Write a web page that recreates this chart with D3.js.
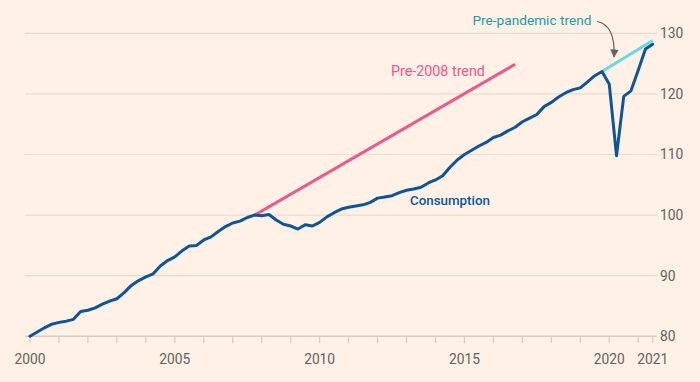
<!DOCTYPE html>
<html>
<head>
<meta charset="utf-8">
<script src="https://cdn.jsdelivr.net/npm/d3@7"></script>
<style>
  html, body { margin: 0; padding: 0; background: #FFF1E5; }
  svg { display: block; font-family: Roboto, "Noto Sans", sans-serif; }
</style>
</head>
<body>
<svg id="chart" width="700" height="382"></svg>
<script>
// Quarterly real consumption index, 2000 Q1 .. 2021 Q3
const startYear = 2000;
const consumption = [
  80.0, 80.7, 81.4, 82.0, 82.3, 82.5, 82.8, 84.1, 84.3, 84.7,
  85.3, 85.8, 86.2, 87.2, 88.4, 89.2, 89.8, 90.3, 91.6, 92.5,
  93.1, 94.1, 94.9, 95.0, 95.9, 96.4, 97.3, 98.1, 98.7, 99.0,
  99.6, 100.0, 99.9, 100.1, 99.2, 98.5, 98.2, 97.7, 98.4, 98.2,
  98.8, 99.7, 100.4, 101.0, 101.3, 101.5, 101.7, 102.1, 102.8, 103.0,
  103.2, 103.7, 104.1, 104.3, 104.6, 105.3, 105.8, 106.5, 107.9, 109.1,
  110.0, 110.7, 111.4, 112.0, 112.8, 113.2, 113.9, 114.5, 115.4, 116.0,
  116.6, 117.9, 118.6, 119.5, 120.2, 120.7, 121.0, 122.0, 123.0, 123.7,
  121.6, 109.8, 119.6, 120.5, 123.9, 127.4, 128.2
];
// trend lines: [fractional year, value]
const pre2008Trend = [[2007.75, 100.0], [2016.75, 124.9]];
const prePandemicTrend = [[2019.75, 123.7], [2021.5, 128.8]];
const yTicks = [80, 90, 100, 110, 120, 130];
const xTickYears = d3.range(2000, 2022);
const xLabelYears = [2000, 2005, 2010, 2015, 2020];
const xEndLabel = { at: 2021.5, text: "2021" };

const svg = d3.select("#chart");
const x = d3.scaleLinear().domain([2000, 2021.5]).range([30, 652.7]);
const y = d3.scaleLinear().domain([80, 130]).range([336.3, 33.3]);
const gridL = 25, gridR = 657;

// scale a text's font size so that its rendered width matches a target width
function fitSize(text, target, weight) {
  const t = svg.append("text").attr("font-size", 20).attr("font-weight", weight || 400).text(text);
  const w = t.node().getComputedTextLength();
  t.remove();
  return 20 * target / w;
}
const axisFs = fitSize("2000", 31);
const yFs = fitSize("130", 23.3);

// gridlines
svg.append("g").selectAll("line").data(yTicks.filter(d => d !== 80)).join("line")
  .attr("x1", gridL).attr("x2", gridR)
  .attr("y1", d => y(d)).attr("y2", d => y(d))
  .attr("stroke", "#E8DCD1").attr("stroke-width", 1.2);

// baseline
svg.append("line").attr("x1", gridL).attr("x2", gridR)
  .attr("y1", y(80)).attr("y2", y(80))
  .attr("stroke", "#D6CCC3").attr("stroke-width", 1.6);

// y labels
svg.append("g").selectAll("text").data(yTicks).join("text")
  .attr("x", 660).attr("y", d => y(d)).attr("dy", "0.36em")
  .attr("fill", "#66605C").attr("font-size", yFs).text(d => d);

// x ticks
const tickVals = xTickYears.concat([xEndLabel.at]);
svg.append("g").selectAll("line").data(tickVals).join("line")
  .attr("x1", d => x(d)).attr("x2", d => x(d))
  .attr("y1", y(80)).attr("y2", y(80) + 7)
  .attr("stroke", "#D6CCC3").attr("stroke-width", 1.2);

svg.append("g").selectAll("text").data(xLabelYears).join("text")
  .attr("x", d => x(d)).attr("y", 364).attr("text-anchor", "middle")
  .attr("fill", "#66605C").attr("font-size", axisFs).text(d => d);
svg.append("text").attr("x", x(xEndLabel.at)).attr("y", 364).attr("text-anchor", "middle")
  .attr("fill", "#66605C").attr("font-size", axisFs).text(xEndLabel.text);

const line = d3.line().x(d => x(d[0])).y(d => y(d[1]));
const consData = consumption.map((v, i) => [startYear + i * 0.25, v]);

svg.append("path").datum(pre2008Trend).attr("d", line)
  .attr("fill", "none").attr("stroke", "#F0588C").attr("stroke-width", 3);
svg.append("path").datum(prePandemicTrend).attr("d", line)
  .attr("fill", "none").attr("stroke", "#6ED8E2").attr("stroke-width", 3);
svg.append("path").datum(consData).attr("d", line)
  .attr("fill", "none").attr("stroke", "#0F5499").attr("stroke-width", 3)
  .attr("stroke-linejoin", "round").attr("stroke-linecap", "round");

// labels
svg.append("text").attr("x", 391).attr("y", 76).attr("fill", "#F0588C")
  .attr("font-size", fitSize("Pre-2008 trend", 94)).text("Pre-2008 trend");
svg.append("text").attr("x", 410).attr("y", 205).attr("fill", "#0F5499")
  .attr("font-weight", 500)
  .attr("font-size", fitSize("Consumption", 80, 500)).text("Consumption");
svg.append("text").attr("x", 472.5).attr("y", 25).attr("fill", "#1E9BA5")
  .attr("font-size", fitSize("Pre-pandemic trend", 119)).text("Pre-pandemic trend");

// arrow
svg.append("defs").append("marker").attr("id", "ah")
  .attr("viewBox", "0 0 10 10").attr("refX", 9).attr("refY", 5)
  .attr("markerWidth", 7).attr("markerHeight", 7).attr("orient", "auto")
  .append("path").attr("d", "M0,0 L10,5 L0,10 z").attr("fill", "#66605C");
svg.append("path").attr("d", "M597,21.5 C610,24 615,38 614,57")
  .attr("fill", "none").attr("stroke", "#66605C").attr("stroke-width", 1.2)
  .attr("marker-end", "url(#ah)");
</script>
</body>
</html>
